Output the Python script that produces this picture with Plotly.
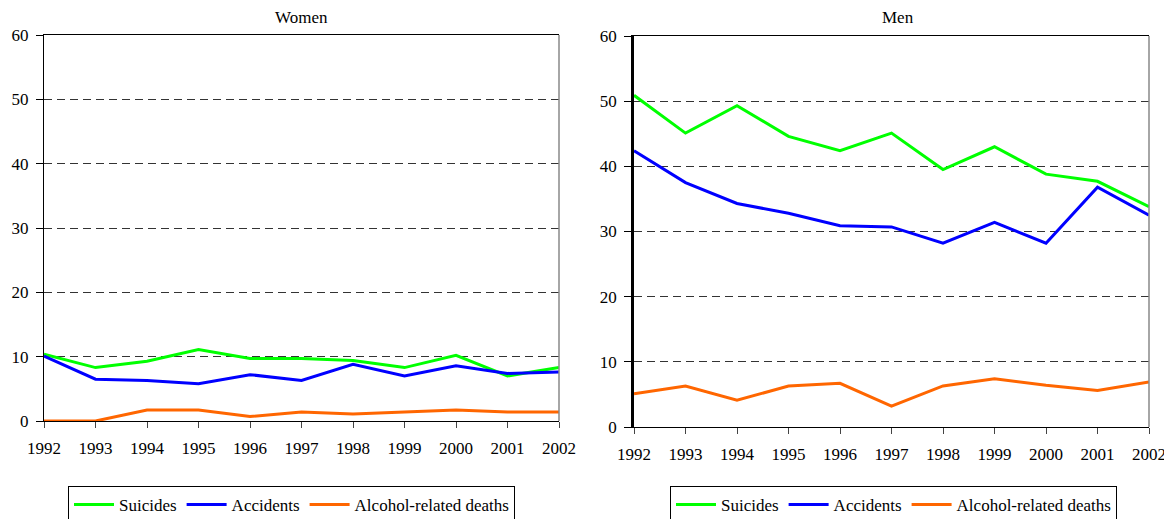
import plotly.graph_objects as go

years = [1992, 1993, 1994, 1995, 1996, 1997, 1998, 1999, 2000, 2001, 2002]

women_suicides = [10.4, 8.3, 9.3, 11.1, 9.7, 9.7, 9.4, 8.3, 10.2, 7.0, 8.3]
women_accidents = [10.1, 6.5, 6.3, 5.8, 7.2, 6.3, 8.8, 7.0, 8.6, 7.4, 7.6]
women_alcohol = [0.0, 0.0, 1.7, 1.7, 0.7, 1.4, 1.1, 1.4, 1.7, 1.4, 1.4]

men_suicides = [50.9, 45.1, 49.3, 44.6, 42.4, 45.1, 39.5, 43.0, 38.8, 37.7, 33.8]
men_accidents = [42.4, 37.5, 34.3, 32.8, 30.9, 30.7, 28.2, 31.4, 28.2, 36.8, 32.5]
men_alcohol = [5.1, 6.3, 4.1, 6.3, 6.7, 3.2, 6.3, 7.4, 6.4, 5.6, 6.9]

series_names = ["Suicides", "Accidents", "Alcohol-related deaths"]
colors = ["#00FF00", "#0000FF", "#FF6600"]

FONT = "Liberation Serif"
W, H = 1172, 519
OFF = 7  # page body offset


def px_x(p):
    return (p - OFF) / W


def px_y(p):
    return 1 - (p - OFF) / H


fig = go.Figure()

women = [women_suicides, women_accidents, women_alcohol]
men = [men_suicides, men_accidents, men_alcohol]

for name, vals, col in zip(series_names, women, colors):
    fig.add_trace(go.Scatter(
        x=years, y=vals, name=name, mode="lines",
        line=dict(color=col, width=3),
        xaxis="x", yaxis="y", legend="legend"
    ))

for name, vals, col in zip(series_names, men, colors):
    fig.add_trace(go.Scatter(
        x=years, y=vals, name=name, mode="lines",
        line=dict(color=col, width=3),
        xaxis="x2", yaxis="y2", legend="legend2"
    ))


def xax(domain, anchor):
    return dict(
        domain=domain, anchor=anchor, range=[1992, 2002],
        tickmode="array", tickvals=years, ticktext=[str(y) for y in years],
        ticks="outside", ticklen=6, tickcolor="#444",
        showline=True, linecolor="black", linewidth=1, mirror=True,
        showgrid=False, zeroline=False, automargin=False,
        tickfont=dict(family=FONT, size=17, color="black"),
        ticklabelstandoff=6,
    )


def yax(domain, anchor, lw):
    return dict(
        domain=domain, anchor=anchor, range=[0, 60], dtick=10,
        ticks="outside", ticklen=7, tickcolor="black",
        showline=True, linecolor="black", linewidth=lw,
        showgrid=True, gridcolor="#333", griddash="8px,5px", gridwidth=1,
        zeroline=False, automargin=False,
        tickfont=dict(family=FONT, size=17, color="black"),
        ticklabelstandoff=4,
    )


legend_style = dict(
    orientation="h", xanchor="left", yanchor="top",
    bordercolor="black", borderwidth=1, bgcolor="white",
    font=dict(family=FONT, size=17, color="black"),
    itemwidth=40,
)

title_font = dict(family=FONT, size=17, color="black")

fig.update_layout(
    template="none",
    width=W, height=H,
    margin=dict(l=0, r=0, t=0, b=0, autoexpand=False),
    paper_bgcolor="white", plot_bgcolor="white",
    font=dict(family=FONT, size=17, color="black"),
    xaxis=xax([px_x(43), px_x(558)], "y"),
    yaxis=yax([px_y(420), px_y(34)], "x", 1),
    xaxis2=xax([px_x(633), px_x(1148)], "y2"),
    yaxis2=yax([px_y(426), px_y(35)], "x2", 2.5),
    legend=dict(x=px_x(67), y=px_y(485), **legend_style),
    legend2=dict(x=px_x(669), y=px_y(485), **legend_style),
    annotations=[
        dict(text="Women", x=px_x(300), y=px_y(17),
             xref="paper", yref="paper", xanchor="center", yanchor="middle",
             showarrow=False, font=title_font),
        dict(text="Men", x=px_x(897), y=px_y(17),
             xref="paper", yref="paper", xanchor="center", yanchor="middle",
             showarrow=False, font=title_font),
    ],
    shapes=[
        dict(type="line", xref="x domain", yref="y domain", x0=1, x1=1, y0=0, y1=1,
             line=dict(color="#888", width=1.5)),
        dict(type="line", xref="x2 domain", yref="y2 domain", x0=1, x1=1, y0=0, y1=1,
             line=dict(color="#888", width=1.5)),
    ],
)

fig.write_html("out.html")
